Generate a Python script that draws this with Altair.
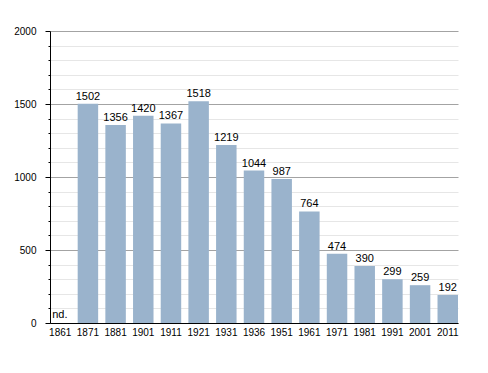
import altair as alt
import pandas as pd

years = ["1861", "1871", "1881", "1901", "1911", "1921", "1931", "1936",
         "1951", "1961", "1971", "1981", "1991", "2001", "2011"]
population = [None, 1502, 1356, 1420, 1367, 1518, 1219, 1044,
              987, 764, 474, 390, 299, 259, 192]
missing_label = "nd."
y_ticks = list(range(0, 2001, 100))

df = pd.DataFrame({"year": years, "pop": population})
df["label"] = [missing_label if v is None or pd.isna(v) else str(int(v)) for v in population]
df["base"] = 0

FONT = "Liberation Sans"

x_scale = alt.Scale(paddingInner=0.26, paddingOuter=0)
x_axis = alt.Axis(labelAngle=0, ticks=False, domainColor="black",
                  labelFont=FONT, labelFontSize=10, labelColor="black",
                  labelPadding=4, grid=False, title=None)

y_scale = alt.Scale(domain=[0, 2000], nice=False)
y_axis = alt.Axis(values=y_ticks,
                  labelExpr="datum.value % 500 === 0 ? datum.label : ''",
                  format="d",
                  grid=True,
                  gridColor={"condition": {"test": "datum.value % 500 === 0", "value": "#a3a3a3"}, "value": "#e6e6e6"},
                  tickSize={"condition": {"test": "datum.value % 500 === 0", "value": 5}, "value": 2},
                  tickColor="black", domainColor="black",
                  labelFont=FONT, labelFontSize=10, labelColor="black",
                  labelPadding=9, title=None)


def xe():
    return alt.X("year:N", sort=years, scale=x_scale, axis=x_axis, title=None)


bars = alt.Chart(df).mark_bar(color="#9ab3cc").encode(
    x=xe(),
    y=alt.Y("pop:Q", scale=y_scale, axis=y_axis, title=None),
).transform_filter("isValid(datum.pop)")

values_text = alt.Chart(df).mark_text(
    font=FONT, fontSize=11, color="black", baseline="alphabetic", dy=-4
).encode(
    x=xe(),
    y=alt.Y("pop:Q", scale=y_scale, axis=y_axis, title=None),
    text="label:N",
).transform_filter("isValid(datum.pop)")

nd_text = alt.Chart(df).mark_text(
    font=FONT, fontSize=11, color="black", baseline="alphabetic", align="left", dx=-8, dy=-5
).encode(
    x=xe(),
    y=alt.Y("base:Q", scale=y_scale, axis=y_axis, title=None),
    text="label:N",
).transform_filter("!isValid(datum.pop)")

chart = alt.layer(bars, values_text, nd_text).properties(
    width=408, height=292,
    autosize=alt.AutoSizeParams(type="none"),
    padding={"left": 42, "top": 23, "right": 22, "bottom": 42},
    background="white",
).configure_view(stroke=None)

chart.save("out.html", embed_options={"renderer": "svg", "actions": False})
